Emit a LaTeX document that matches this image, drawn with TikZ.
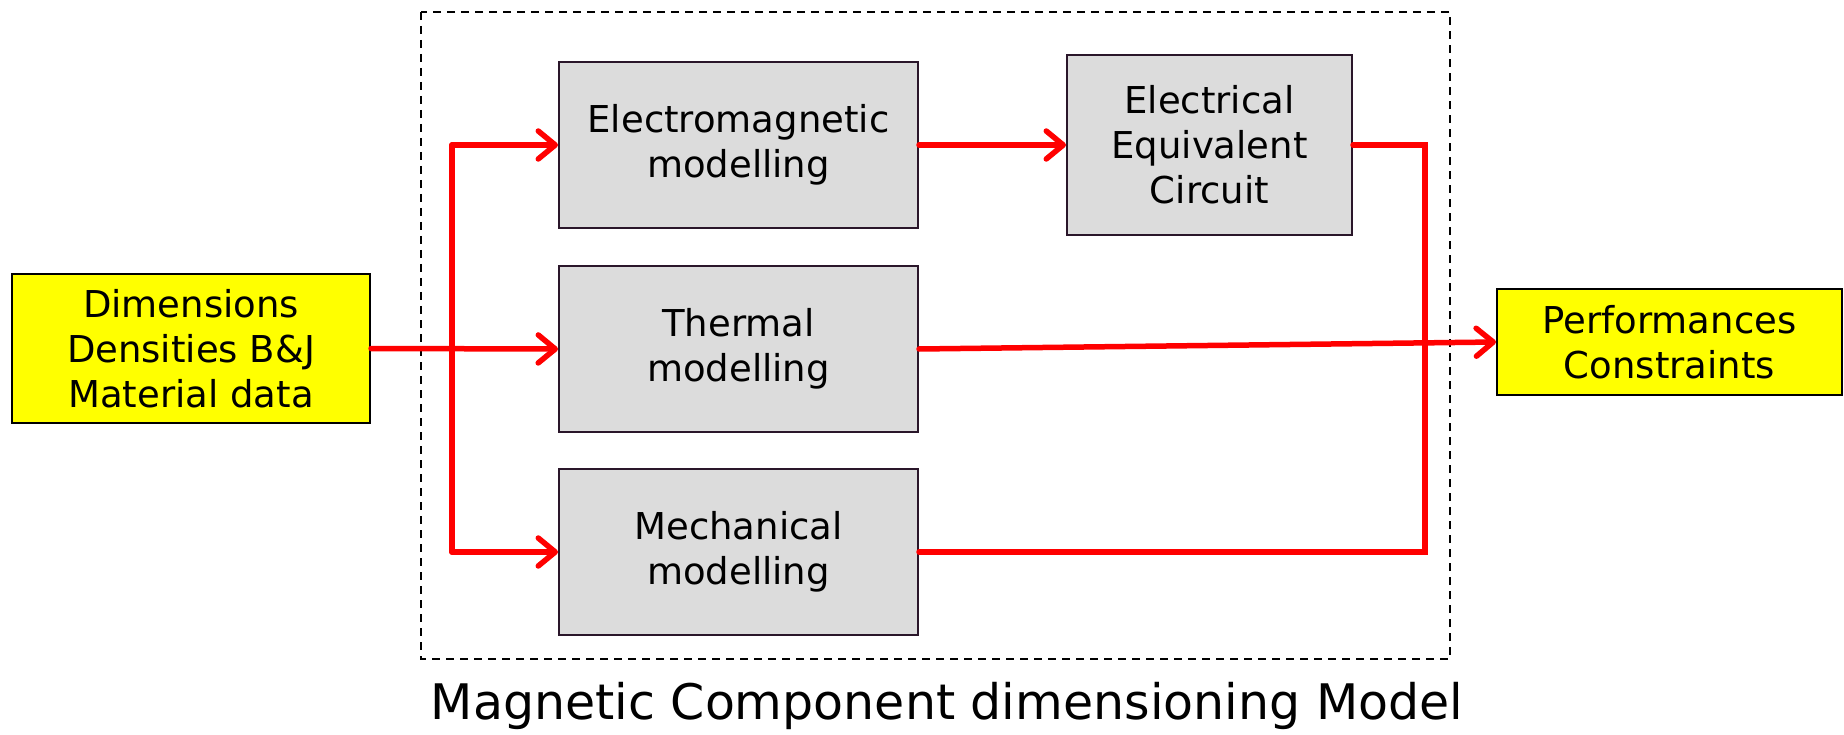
\documentclass[tikz,border=0pt]{standalone}
\usepackage{fontspec}
\setmainfont{DejaVu Sans}
\usetikzlibrary{arrows.meta}
\definecolor{boxgray}{RGB}{220,220,220}
\definecolor{boxedge}{RGB}{42,22,42}
\definecolor{hiyellow}{RGB}{255,255,0}
\definecolor{flowred}{RGB}{255,0,0}
\begin{document}
\begin{tikzpicture}[x=1pt,y=-1pt,
  blockbox/.style={draw=boxedge, line width=2pt, fill=boxgray, inner sep=0pt, align=center,
    font=\fontsize{37}{45}\selectfont},
  iobox/.style={draw=black, line width=2pt, fill=hiyellow, inner sep=0pt, align=center,
    font=\fontsize{37}{45}\selectfont},
  flow/.style={draw=flowred, line width=5.5pt, line cap=round, line join=miter},
  flowarrow/.style={flow, -{Straight Barb[length=17pt,width=28pt,line width=5.5pt, round]}},
  frame/.style={draw=black, line width=2pt, dash pattern=on 8pt off 6pt}
]
\useasboundingbox (0,0) rectangle (1844,735);
\fill[white] (0,0) rectangle (1844,735);

\draw[frame] (421,12) rectangle (1450,659);

\node[iobox, minimum width=358pt, minimum height=149pt] (in) at (191,348.5) {Dimensions\\Densities B\&J\\Material data};
\node[blockbox, minimum width=359pt, minimum height=166pt] (em) at (738.5,145) {Electromagnetic\\modelling};
\node[blockbox, minimum width=359pt, minimum height=166pt] (th) at (738.5,349) {Thermal\\modelling};
\node[blockbox, minimum width=359pt, minimum height=166pt] (me) at (738.5,552) {Mechanical\\modelling};
\node[blockbox, minimum width=285pt, minimum height=180pt] (eec) at (1209.5,145) {Electrical\\Equivalent\\Circuit};
\node[iobox, minimum width=345pt, minimum height=106pt] (perf) at (1669.5,342) {Performances\\Constraints};

\node[font=\fontsize{49}{59}\selectfont] (cap) at (947,706) {Magnetic Component dimensioning Model};

\coordinate (splittop) at (452,145);
\coordinate (splitbot) at (452,552);
\coordinate (retop) at (1425,145);
\coordinate (rebot) at (1425,552);

\draw[flowarrow] (in.east) -- (th.west);
\draw[flow] (splittop) -- (splitbot);
\draw[flowarrow] (splittop) -- (em.west);
\draw[flowarrow] (splitbot) -- (me.west);
\draw[flowarrow] (em.east) -- (eec.west);
\draw[flow] (eec.east) -- (retop) -- (rebot) -- (me.east);
\draw[flowarrow] (th.east) -- (perf.west);
\end{tikzpicture}
\end{document}
